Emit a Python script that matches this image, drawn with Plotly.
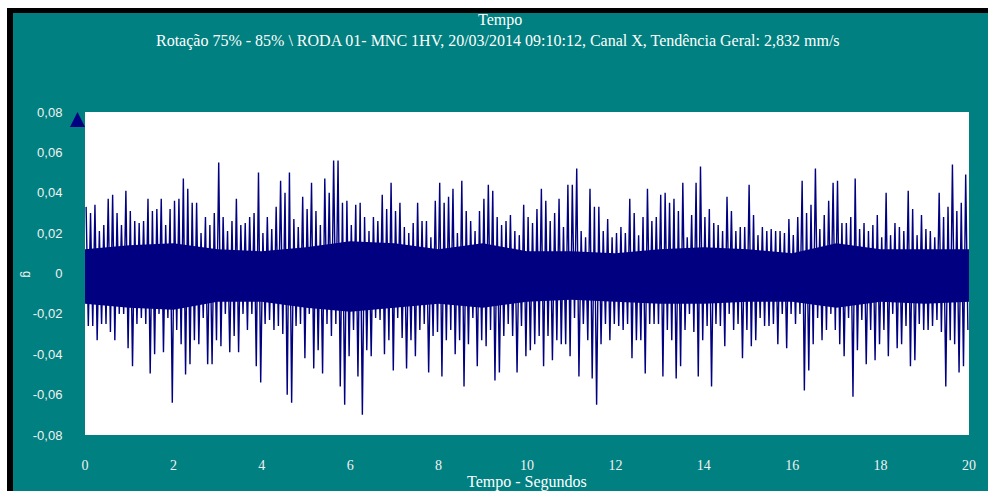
import plotly.graph_objects as go

# Vibration signal (g) stored as a min/max envelope: one upper and one lower
# peak for every 0.1 s bin over the 20 s record.
BIN = 0.1

peak_hi = [
    # 0.0 - 2.5 s
    0.033, 0.030, 0.034, 0.021, 0.024, 0.037, 0.039, 0.030, 0.024, 0.041,
    0.031, 0.026, 0.025, 0.026, 0.037, 0.031, 0.032, 0.037, 0.024, 0.032,
    0.036, 0.037, 0.047, 0.042, 0.035,
    # 2.5 - 5.0 s
    0.035, 0.020, 0.028, 0.024, 0.030, 0.055, 0.028, 0.021, 0.026, 0.037,
    0.024, 0.025, 0.028, 0.030, 0.050, 0.020, 0.028, 0.022, 0.033, 0.046,
    0.040, 0.050, 0.027, 0.023, 0.038,
    # 5.0 - 7.5 s
    0.032, 0.045, 0.031, 0.024, 0.047, 0.040, 0.056, 0.056, 0.035, 0.036,
    0.024, 0.034, 0.035, 0.028, 0.021, 0.028, 0.026, 0.039, 0.032, 0.045,
    0.031, 0.035, 0.023, 0.020, 0.025,
    # 7.5 - 10.0 s
    0.035, 0.026, 0.026, 0.018, 0.036, 0.045, 0.035, 0.038, 0.042, 0.020,
    0.046, 0.031, 0.026, 0.021, 0.031, 0.037, 0.044, 0.041, 0.028, 0.024,
    0.026, 0.029, 0.021, 0.019, 0.034,
    # 10.0 - 12.5 s
    0.028, 0.025, 0.032, 0.042, 0.036, 0.026, 0.030, 0.037, 0.023, 0.044,
    0.044, 0.052, 0.021, 0.018, 0.042, 0.033, 0.033, 0.021, 0.027, 0.018,
    0.020, 0.023, 0.020, 0.037, 0.030,
    # 12.5 - 15.0 s
    0.019, 0.028, 0.042, 0.026, 0.028, 0.039, 0.040, 0.035, 0.037, 0.031,
    0.045, 0.018, 0.029, 0.045, 0.053, 0.028, 0.032, 0.025, 0.024, 0.021,
    0.038, 0.031, 0.021, 0.023, 0.023,
    # 15.0 - 17.5 s
    0.044, 0.029, 0.019, 0.023, 0.021, 0.022, 0.021, 0.021, 0.020, 0.027,
    0.019, 0.028, 0.046, 0.030, 0.034, 0.052, 0.022, 0.029, 0.036, 0.045,
    0.046, 0.025, 0.025, 0.028, 0.047,
    # 17.5 - 20.0 s
    0.022, 0.025, 0.021, 0.024, 0.029, 0.018, 0.040, 0.019, 0.025, 0.023,
    0.021, 0.041, 0.032, 0.019, 0.029, 0.022, 0.021, 0.018, 0.040, 0.028,
    0.033, 0.054, 0.031, 0.035, 0.049,
]

peak_lo = [
    # 0.0 - 2.5 s
    -0.026, -0.026, -0.033, -0.025, -0.025, -0.029, -0.033, -0.020, -0.020, -0.037,
    -0.046, -0.025, -0.022, -0.025, -0.0495, -0.040, -0.020, -0.039, -0.022, -0.064,
    -0.028, -0.035, -0.050, -0.045, -0.033,
    # 2.5 - 5.0 s
    -0.035, -0.022, -0.045, -0.045, -0.033, -0.036, -0.020, -0.039, -0.031, -0.039,
    -0.020, -0.028, -0.020, -0.046, -0.054, -0.025, -0.023, -0.028, -0.026, -0.030,
    -0.060, -0.064, -0.026, -0.025, -0.042,
    # 5.0 - 7.5 s
    -0.020, -0.047, -0.038, -0.0495, -0.025, -0.031, -0.025, -0.056, -0.065, -0.041,
    -0.028, -0.051, -0.070, -0.038, -0.041, -0.022, -0.023, -0.040, -0.033, -0.048,
    -0.022, -0.032, -0.047, -0.033, -0.041,
    # 7.5 - 10.0 s
    -0.028, -0.025, -0.049, -0.031, -0.029, -0.051, -0.033, -0.028, -0.040, -0.033,
    -0.056, -0.035, -0.022, -0.046, -0.033, -0.036, -0.028, -0.053, -0.049, -0.031,
    -0.025, -0.031, -0.049, -0.026, -0.041,
    # 10.0 - 12.5 s
    -0.038, -0.035, -0.031, -0.046, -0.031, -0.043, -0.033, -0.035, -0.035, -0.041,
    -0.022, -0.051, -0.025, -0.033, -0.052, -0.065, -0.035, -0.025, -0.033, -0.025,
    -0.026, -0.028, -0.025, -0.042, -0.033,
    # 12.5 - 15.0 s
    -0.033, -0.0495, -0.025, -0.025, -0.025, -0.051, -0.028, -0.033, -0.052, -0.046,
    -0.028, -0.020, -0.029, -0.051, -0.033, -0.026, -0.056, -0.025, -0.026, -0.036,
    -0.020, -0.028, -0.025, -0.042, -0.028,
    # 15.0 - 17.5 s
    -0.036, -0.033, -0.022, -0.026, -0.026, -0.025, -0.035, -0.020, -0.037, -0.020,
    -0.025, -0.020, -0.058, -0.048, -0.035, -0.022, -0.033, -0.028, -0.020, -0.028,
    -0.035, -0.041, -0.022, -0.061, -0.038,
    # 17.5 - 20.0 s
    -0.023, -0.045, -0.028, -0.043, -0.035, -0.028, -0.041, -0.020, -0.037, -0.035,
    -0.026, -0.046, -0.043, -0.025, -0.028, -0.028, -0.026, -0.023, -0.029, -0.056,
    -0.033, -0.035, -0.049, -0.046, -0.028,
]

# Dense core of the signal (solid band), one value per second from 0 to 20 s
core_t = [0, 1, 2, 3, 4, 5, 6, 7, 8, 9, 10, 11, 12, 13, 14, 15, 16, 17, 18, 19, 20]
core_hi = [0.012, 0.014, 0.015, 0.012, 0.011, 0.013, 0.016, 0.015, 0.012, 0.015, 0.011,
           0.011, 0.010, 0.012, 0.013, 0.012, 0.010, 0.015, 0.012, 0.012, 0.012]
core_lo = [-0.015, -0.017, -0.018, -0.014, -0.014, -0.017, -0.019, -0.017, -0.015, -0.017,
           -0.014, -0.013, -0.014, -0.015, -0.015, -0.014, -0.014, -0.017, -0.014, -0.015,
           -0.014]

y_tickvals = [0.08, 0.06, 0.04, 0.02, 0.0, -0.02, -0.04, -0.06, -0.08]
y_ticktext = ["0,08", "0,06", "0,04", "0,02", "0", "-0,02", "-0,04", "-0,06", "-0,08"]
x_tickvals = [0, 2, 4, 6, 8, 10, 12, 14, 16, 18, 20]
x_ticktext = ["0", "2", "4", "6", "8", "10", "12", "14", "16", "18", "20"]

title_text = "Tempo"
subtitle_text = ("Rotação 75% - 85% \\ RODA 01- MNC 1HV, 20/03/2014 09:10:12, "
                 "Canal X, Tendência Geral: 2,832 mm/s")
x_title = "Tempo - Segundos"
y_title = "g"

# Interleave the envelope: upper peak then lower peak inside each bin
t, g = [], []
for k, (hi, lo) in enumerate(zip(peak_hi, peak_lo)):
    t += [k * BIN + 0.25 * BIN, k * BIN + 0.75 * BIN]
    g += [hi, lo]

W, H = 988, 491
L, R, T, B = 85, 969, 112, 435   # plot area in pixels
TEAL = "#008080"
NAVY = "#000080"
LABEL = "#f2f2f2"


def px(x):
    return (x - L) / (R - L)


def py(y):
    return (B - y) / (B - T)


fig = go.Figure()
fig.add_trace(go.Scatter(
    x=core_t + core_t[::-1], y=core_hi + core_lo[::-1],
    mode="lines", fill="toself", fillcolor=NAVY,
    line=dict(color=NAVY, width=0),
    hoverinfo="skip", showlegend=False,
))
fig.add_trace(go.Scatter(
    x=t, y=g, mode="lines",
    line=dict(color=NAVY, width=1.4),
    hoverinfo="skip", showlegend=False,
))

shapes = [
    # window frame: white edge then black edge on top and left
    dict(type="rect", xref="paper", yref="paper", x0=px(0), x1=px(W), y0=py(0), y1=py(8),
         fillcolor="white", line_width=0, layer="above"),
    dict(type="rect", xref="paper", yref="paper", x0=px(0), x1=px(W), y0=py(8), y1=py(13),
         fillcolor="black", line_width=0, layer="above"),
    dict(type="rect", xref="paper", yref="paper", x0=px(0), x1=px(7), y0=py(0), y1=py(H),
         fillcolor="white", line_width=0, layer="above"),
    dict(type="rect", xref="paper", yref="paper", x0=px(7), x1=px(13), y0=py(8), y1=py(H),
         fillcolor="black", line_width=0, layer="above"),
    # cursor marker at the top-left corner of the plot
    dict(type="path", xref="paper", yref="paper",
         path=f"M {px(70)} {py(127)} L {px(85)} {py(127)} L {px(77.5)} {py(112)} Z",
         fillcolor=NAVY, line=dict(color=NAVY, width=0), layer="above"),
]

annotations = [
    dict(text=title_text, xref="paper", yref="paper", x=px(500), y=py(20),
         xanchor="center", yanchor="middle", showarrow=False,
         font=dict(family="Liberation Serif", size=16, color="white")),
    dict(text=subtitle_text, xref="paper", yref="paper", x=px(498), y=py(41),
         xanchor="center", yanchor="middle", showarrow=False,
         font=dict(family="Liberation Serif", size=16, color="white")),
    dict(text=x_title, xref="paper", yref="paper", x=px(527), y=py(482),
         xanchor="center", yanchor="middle", showarrow=False,
         font=dict(family="Liberation Serif", size=16, color="white")),
    dict(text=y_title, xref="paper", yref="paper", x=px(27), y=py(274),
         xanchor="center", yanchor="middle", showarrow=False, textangle=90,
         font=dict(family="Liberation Sans", size=12, color=LABEL)),
]

fig.update_layout(
    width=W, height=H,
    margin=dict(l=L, r=W - R, t=T, b=H - B, pad=0),
    paper_bgcolor=TEAL, plot_bgcolor="white",
    shapes=shapes, annotations=annotations,
    xaxis=dict(
        range=[0, 20], tickvals=x_tickvals, ticktext=x_ticktext,
        showgrid=False, zeroline=False, showline=False,
        ticks="outside", ticklen=17, tickcolor=TEAL,
        tickfont=dict(family="Liberation Serif", size=14, color=LABEL),
        fixedrange=True,
    ),
    yaxis=dict(
        range=[-0.08, 0.08], tickvals=y_tickvals, ticktext=y_ticktext,
        showgrid=False, zeroline=False, showline=False,
        ticks="outside", ticklen=19, tickcolor=TEAL,
        tickfont=dict(family="Liberation Sans", size=13, color=LABEL),
        fixedrange=True,
    ),
)

fig.write_html("out.html")
